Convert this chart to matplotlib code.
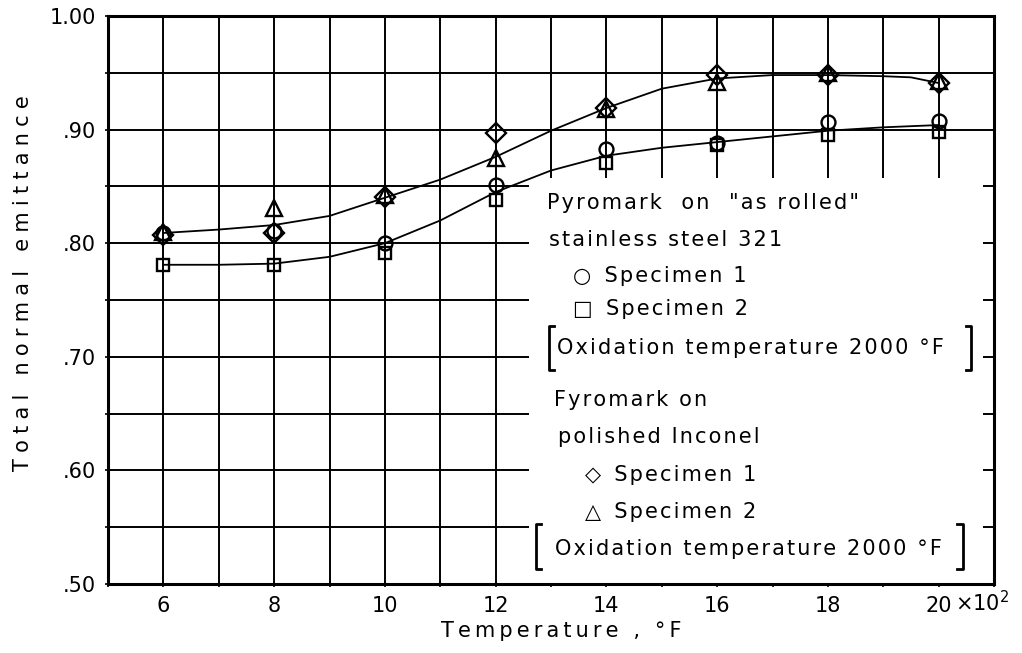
import numpy as np
import matplotlib.pyplot as plt

plt.rcParams['font.family'] = ['DejaVu Sans']

# Temperaturas medidas (x10^2 °F)
temp = [6, 8, 10, 12, 14, 16, 18, 20]

# Pyromark sobre acero inoxidable 321 "as rolled"
acero_esp1 = [0.809, 0.811, 0.800, 0.851, 0.883, 0.888, 0.907, 0.908]   # circulos
acero_esp2 = [0.781, 0.781, 0.791, 0.838, 0.871, 0.886, 0.895, 0.898]   # cuadrados

# Pyromark sobre Inconel pulido
inconel_esp1 = [0.807, 0.809, 0.841, 0.897, 0.919, 0.948, 0.948, 0.941]  # rombos
inconel_esp2 = [0.810, 0.831, 0.842, 0.875, 0.918, 0.942, 0.950, 0.943]  # triangulos

# Curvas trazadas a mano
curva_t = [6, 7, 8, 9, 10, 11, 12, 13, 14, 15, 16, 17, 18, 19, 19.5, 20]
curva_inconel = [0.809, 0.812, 0.816, 0.824, 0.840, 0.856, 0.876, 0.899,
                 0.919, 0.936, 0.945, 0.948, 0.948, 0.947, 0.946, 0.941]
curva_acero = [0.781, 0.781, 0.782, 0.788, 0.800, 0.820, 0.845, 0.864,
               0.877, 0.884, 0.889, 0.894, 0.899, 0.902, 0.903, 0.904]

xticks = [6, 8, 10, 12, 14, 16, 18, 20]
xtick_labels = ['6', '8', '10', '12', '14', '16', '18', '20']
yticks = [0.5, 0.6, 0.7, 0.8, 0.9, 1.0]
ytick_labels = ['.50', '.60', '.70', '.80', '.90', '1.00']


def espaciar(s, sep='\u200a'):
    # letras separadas como en el rotulado original
    return sep.join(s)


fig = plt.figure(figsize=(10.22, 6.53), dpi=100)
ax = fig.add_axes([0.1057, 0.1057, 0.8669, 0.8698])

ax.set_xlim(5, 21)
ax.set_ylim(0.5, 1.0)
ax.set_xticks(xticks)
ax.set_xticklabels(xtick_labels)
ax.set_xticks(np.arange(5, 22, 1), minor=True)
ax.set_yticks(yticks)
ax.set_yticklabels(ytick_labels)
ax.set_yticks(np.arange(0.5, 1.001, 0.05), minor=True)

ax.set_axisbelow(True)
ax.grid(True, which='both', color='black', lw=1.4)
ax.tick_params(which='both', direction='inout', length=5, width=1.2, labelsize=15)
ax.tick_params(axis='x', pad=6)
ax.tick_params(axis='y', pad=6)

for s in ax.spines.values():
    s.set_linewidth(2.2)
    s.set_zorder(5)

# recuadro blanco de la leyenda (tapa la cuadricula)
ax.add_patch(plt.Rectangle((12.6, 0.5), 8.4, 0.357, facecolor='white',
                           edgecolor='none', zorder=1))
ygrid = np.arange(0.55, 0.86, 0.05)
ax.hlines(ygrid, 20.8, 21, color='black', lw=1.4, zorder=2)

# curvas
ax.plot(curva_t, curva_inconel, color='black', lw=1.3, zorder=3)
ax.plot(curva_t, curva_acero, color='black', lw=1.3, zorder=3)

# puntos
kw = dict(ls='none', mfc='none', mec='black', mew=1.7, zorder=4)
ax.plot(temp, acero_esp1, marker='o', ms=10, **kw)
ax.plot(temp, acero_esp2, marker='s', ms=9, **kw)
ax.plot(temp, inconel_esp1, marker='D', ms=10, **kw)
ax.plot(temp, inconel_esp2, marker='^', ms=11, **kw)

# leyenda escrita a mano
fs = 15
tk = dict(fontsize=fs, va='center', zorder=6)
ax.text(12.92, 0.835, espaciar('Pyromark  on  "as rolled"'), **tk)
ax.text(12.97, 0.803, espaciar('stainless steel 321'), **tk)
ax.text(13.40, 0.771, '\u25cb  ' + espaciar('Specimen 1'), **tk)
ax.text(13.40, 0.742, '\u25a1  ' + espaciar('Specimen 2'), **tk)
ax.text(13.10, 0.708, espaciar('Oxidation temperature 2000 \u00b0F'), **tk)
ax.text(13.05, 0.662, espaciar('Fyromark on'), **tk)
ax.text(13.12, 0.629, espaciar('polished Inconel'), **tk)
ax.text(13.62, 0.596, '\u25c7  ' + espaciar('Specimen 1'), **tk)
ax.text(13.62, 0.563, '\u25b3  ' + espaciar('Specimen 2'), **tk)
ax.text(13.08, 0.531, espaciar('Oxidation temperature 2000 \u00b0F'), **tk)


def corchetes(x0, x1, y0, y1):
    s = 0.1
    ax.plot([x0 + s, x0, x0, x0 + s], [y1, y1, y0, y0], color='black', lw=2, zorder=6)
    ax.plot([x1 - s, x1, x1, x1 - s], [y1, y1, y0, y0], color='black', lw=2, zorder=6)


corchetes(12.96, 20.59, 0.688, 0.727)
corchetes(12.72, 20.44, 0.513, 0.553)

# multiplicador del eje x junto al "20"
ax.annotate(r'$\times$10$^2$', xy=(20.3, 0.5), xytext=(0, -19.8),
            textcoords='offset points', fontsize=15, ha='left', va='baseline',
            annotation_clip=False)

ax.set_xlabel(espaciar('Temperature , \u00b0F', '\u2009'), fontsize=15)
ax.set_ylabel(espaciar('Total normal emittance', '\u2009\u200a'), fontsize=15)
ax.xaxis.set_label_coords(0.512, -0.065)
ax.yaxis.set_label_coords(-0.085, 0.53)

fig.savefig('out.png', dpi=100)
